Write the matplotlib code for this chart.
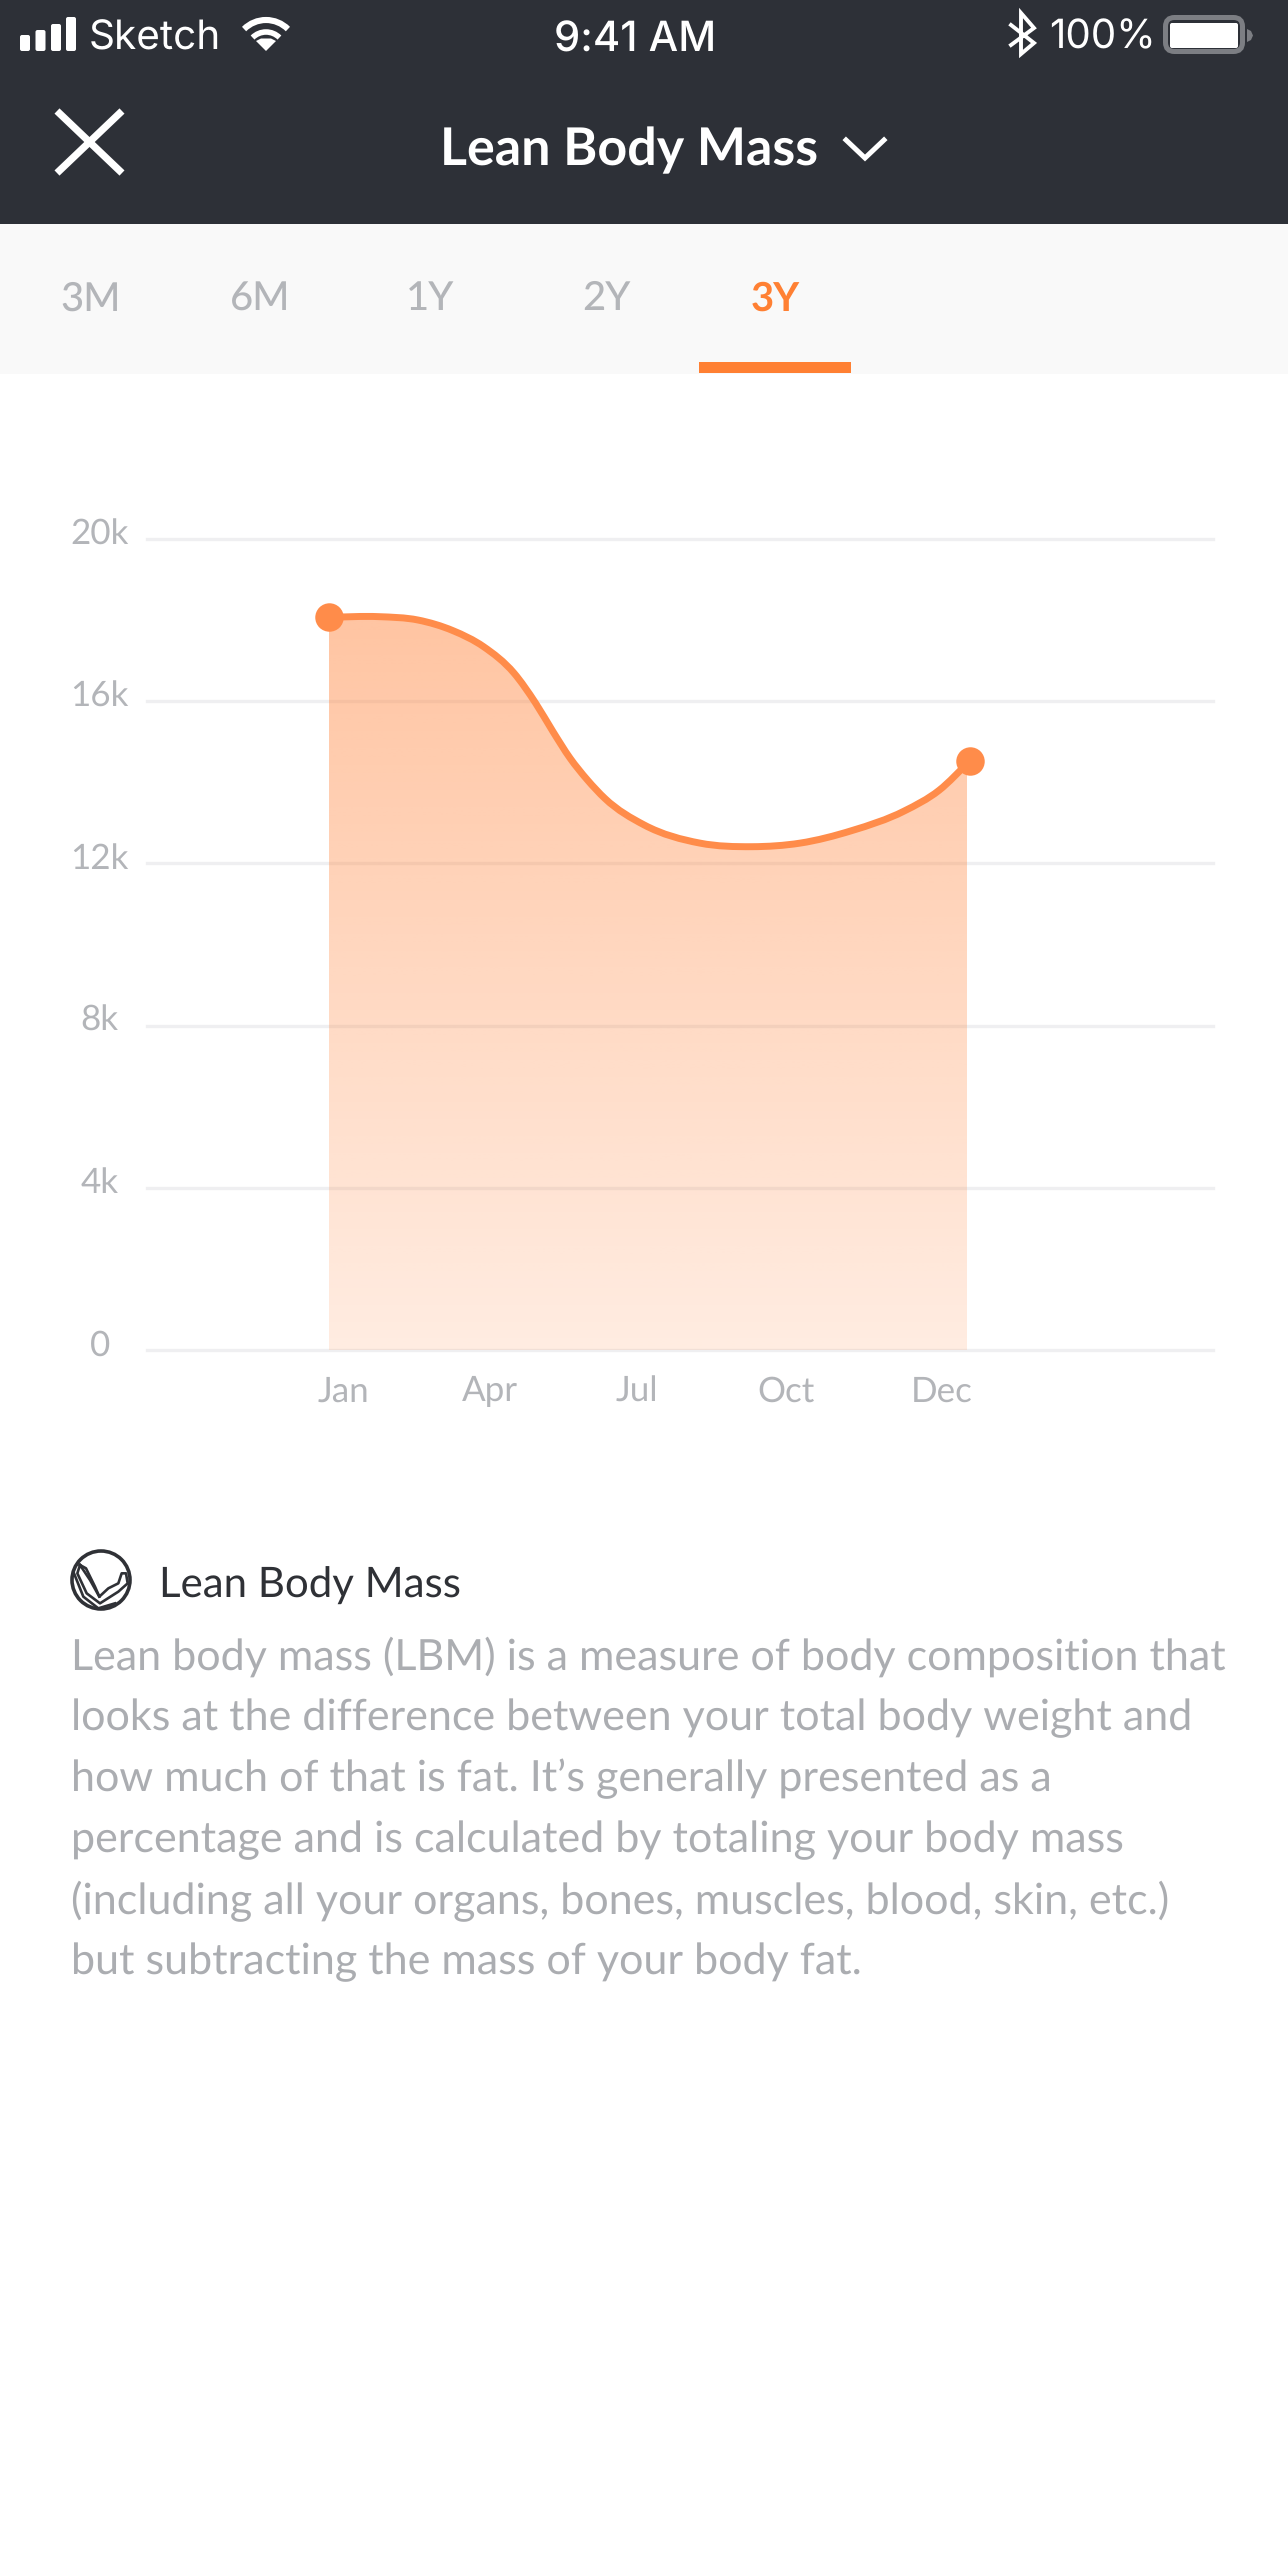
import numpy as np
import matplotlib
matplotlib.use("Agg")
import matplotlib.pyplot as plt
from matplotlib.path import Path
from matplotlib.patches import PathPatch, Rectangle, Circle, FancyBboxPatch, Arc, Polygon
from matplotlib.transforms import ScaledTranslation

# ---- data ----
tick_labels = ["Jan", "Apr", "Jul", "Oct", "Dec"]
tick_pos = [0, 0.98, 1.96, 2.96, 4.0]
y_ticks = [0, 4000, 8000, 12000, 16000, 20000]
y_labels = ["0", "4k", "8k", "12k", "16k", "20k"]
lbm_x = [-0.096, 0.24, 0.501, 0.735, 0.939, 1.142, 1.286, 1.403, 1.516, 1.633, 1.75, 2.011, 2.385, 2.732, 3.053, 3.40, 3.748, 3.981, 4.186]
lbm_y = [18070, 18085, 18002, 17739, 17345, 16695, 15956, 15248, 14600, 14057, 13600, 12950, 12500, 12412, 12500, 12810, 13290, 13800, 14518]
tabs = ["3M", "6M", "1Y", "2Y", "3Y"]
body = ["Lean body mass (LBM) is a measure of body composition that",
        "looks at the difference between your total body weight and",
        "how much of that is fat. It\u2019s generally presented as a",
        "percentage and is calculated by totaling your body mass",
        "(including all your organs, bones, muscles, blood, skin, etc.)",
        "but subtracting the mass of your body fat."]

ORANGE = "#FF8C4A"
W, H = 1288, 2560
FONT = "Lato"
plt.rcParams["font.family"] = [FONT, "DejaVu Sans"]
plt.rcParams["text.hinting"] = "none"
plt.rcParams["text.hinting_factor"] = 1
fig = plt.figure(figsize=(W / 100, H / 100), dpi=100, facecolor="white")

# page chrome in pixel coordinates
bg = fig.add_axes([0, 0, 1, 1], zorder=0)
bg.set_xlim(0, W); bg.set_ylim(H, 0); bg.axis("off")
bg.add_patch(Rectangle((0, 0), W, 224, fc="#2D3037", ec="none"))
bg.add_patch(Rectangle((0, 224), W, 150, fc="#F9F9F9", ec="none"))
bg.add_patch(Rectangle((699, 362), 152, 11, fc="#FF8033", ec="none"))

# status bar
for x, top in zip([20, 35.5, 51, 66], [35, 30, 24, 17]):
    bg.add_patch(FancyBboxPatch((x + 2, top + 2), 6, 51 - top - 4, boxstyle="round,pad=2", fc="white", ec="none"))
bg.text(89, 38.5, "Sketch", color="white", fontsize=29.2, family="Inter", va="center", ha="left")
for d, w in ((62, 4.4), (38, 4.0)):
    bg.add_patch(Arc((266, 51), d, d, theta1=-135, theta2=-45, color="white", lw=w))
bg.add_patch(Polygon([[256, 41], [261, 38.5], [271, 38.5], [276, 41], [266, 51]], fc="white", ec="none"))
bg.text(635, 41, "9:41 AM", color="white", fontsize=30, family="Inter", fontweight="medium", va="center", ha="center")
bg.plot([1011, 1034, 1021, 1021, 1034, 1011], [25, 43, 54, 13, 28, 45], color="white", lw=2.8, solid_joinstyle="miter")
bg.text(1049, 38, "100%", color="white", fontsize=29, family="Inter", va="center", ha="left")
bg.add_patch(FancyBboxPatch((1165.5, 17.5), 77, 34, boxstyle="round,pad=0,rounding_size=9", fc="none", ec="#7C7E83", lw=3.6))
bg.add_patch(FancyBboxPatch((1170, 23), 68, 25, boxstyle="round,pad=0,rounding_size=2", fc="white", ec="none"))
bg.add_patch(Polygon([[1247, 29], [1251, 31], [1253, 35.5], [1251, 40], [1247, 42]], fc="#7C7E83", ec="none"))

# nav bar
bg.plot([57, 122], [111, 173], color="white", lw=5.2, solid_capstyle="butt")
bg.plot([57, 122], [173, 111], color="white", lw=5.2, solid_capstyle="butt")
bg.text(629, 150, "Lean Body Mass", color="white", fontsize=37.4, fontweight="bold", family=FONT, va="center", ha="center")
bg.plot([846, 865, 884], [140, 158, 140], color="white", lw=3.6, solid_joinstyle="miter")

# tabs
for x, t in zip([91, 260, 430, 606, 775], tabs):
    bg.text(x, 299, t, color="#FF8033" if t == "3Y" else "#B3B5B9", fontsize=28.5,
            fontweight="bold" if t == "3Y" else "medium", va="center", ha="center")

# description icon (flexed arm in a ring)
bg.add_patch(Circle((101, 1580), 29, fc="none", ec="#2F3136", lw=2.6))
icon_lines = [
    [(60, 75), (90, 120), (118, 170), (145, 145), (175, 130), (185, 100), (198, 100), (203, 130), (175, 155), (120, 190), (80, 160), (52, 100), (60, 75)],
    [(60, 75), (78, 85), (105, 140), (118, 170)],
    [(42, 100), (70, 170), (115, 205), (165, 190)],
]
for ln in icon_lines:
    a = np.array(ln, float)
    bg.plot(60 + a[:, 0] / 3, 1540 + a[:, 1] / 3, color="#2F3136", lw=1.9, solid_joinstyle="round")
bg.text(159, 1586, "Lean Body Mass", color="#2F3136", fontsize=30, va="center", ha="left")
for i, line in enumerate(body):
    bg.text(71, 1657 + i * 61.0, line, color="#ABADB1", fontsize=31, va="center", ha="left")

# chart
L, R, T, B = 147, 1213, 539, 1350
ax = fig.add_axes([L / W, 1 - B / H, (R - L) / W, (B - T) / H], zorder=2)
ax.patch.set_alpha(0)
PX0, PXU = 343, 149.7   # pixel of first label, pixels per tick step
ax.set_xlim((L - PX0) / PXU, (R - PX0) / PXU)
ax.set_ylim(0, 20000)
for s in ax.spines.values():
    s.set_visible(False)
ax.set_yticks(y_ticks, y_labels)
ax.set_xticks(tick_pos, tick_labels)
ax.tick_params(axis="both", length=0, labelcolor="#B3B5B9", labelsize=25.5)
ax.tick_params(axis="y", pad=34)
ax.tick_params(axis="x", pad=18.5)
off = ScaledTranslation(0, 7.5 / 100, fig.dpi_scale_trans)
for lab in ax.get_yticklabels():
    lab.set_ha("center")
    lab.set_transform(lab.get_transform() + off)
ax.grid(axis="y", color="#EFEFF1", lw=2.4, zorder=0)
ax.set_axisbelow(True)
for g in ax.get_ygridlines():
    g.set_clip_on(False)

# smooth curve through read points (cubic Bezier, Catmull-Rom tangents)
x = np.array(lbm_x, float); y = np.array(lbm_y, float)
m = np.gradient(y, x)
verts = [(x[0], y[0])]; codes = [Path.MOVETO]
for i in range(len(x) - 1):
    h = x[i + 1] - x[i]
    verts += [(x[i] + h / 3, y[i] + m[i] * h / 3), (x[i + 1] - h / 3, y[i + 1] - m[i + 1] * h / 3), (x[i + 1], y[i + 1])]
    codes += [Path.CURVE4] * 3
curve = Path(verts, codes)
area = Path(verts + [(x[-1], 0), (x[0], 0), (x[0], y[0])],
            codes + [Path.LINETO, Path.LINETO, Path.CLOSEPOLY])
grad = np.zeros((256, 1, 4))
grad[..., 0] = 1.0; grad[..., 1] = 0x8A / 255; grad[..., 2] = 0x45 / 255
grad[..., 3] = np.linspace(0.50, 0.16, 256)[:, None]
im = ax.imshow(grad, extent=[x[0], (966 - PX0) / PXU, 0, y.max()], origin="upper",
               aspect="auto", zorder=2, interpolation="bilinear")
im.set_clip_path(PathPatch(area, transform=ax.transData))
ax.set_xlim((L - PX0) / PXU, (R - PX0) / PXU); ax.set_ylim(0, 20000)
ax.add_patch(PathPatch(curve, fc="none", ec=ORANGE, lw=5.0, zorder=3, capstyle="round"))
ax.plot([x[0], x[-1]], [y[0], y[-1]], "o", color=ORANGE, ms=20.5, mec="none", zorder=4, clip_on=False)

fig.savefig("out.png", dpi=100, facecolor="white")
